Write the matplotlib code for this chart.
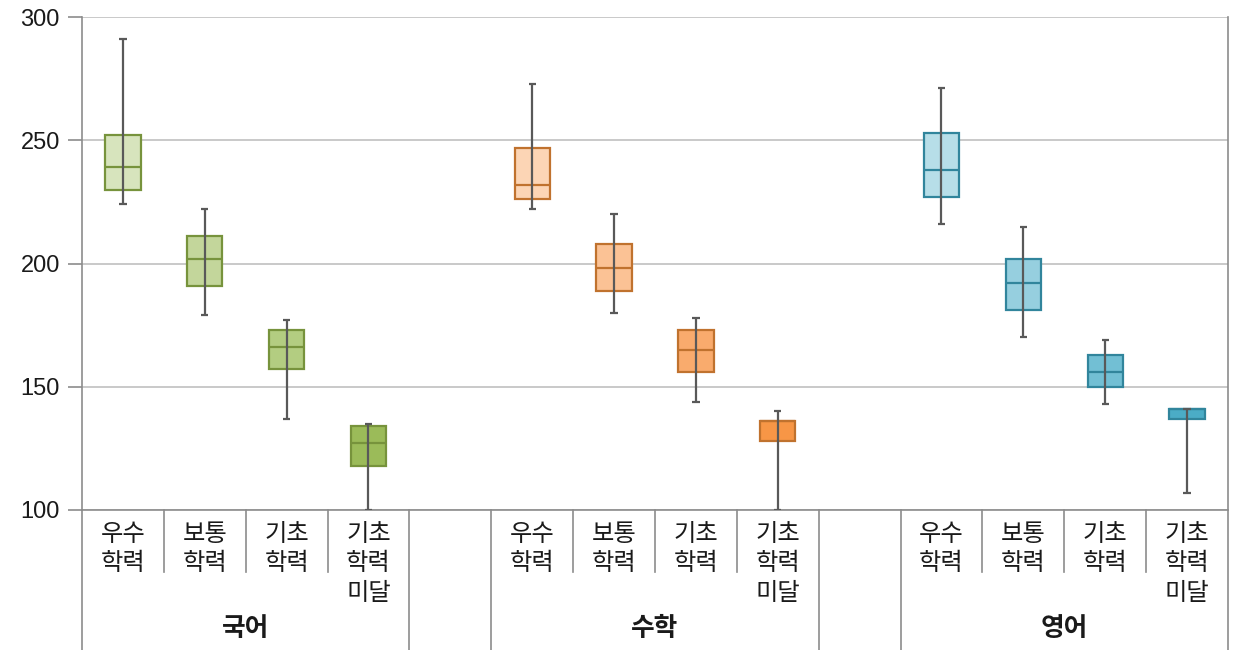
import matplotlib
matplotlib.use('Agg')
import matplotlib.pyplot as plt
import matplotlib.transforms as mtransforms

plt.rcParams['font.family'] = ['Noto Sans CJK KR', 'DejaVu Sans']

subjects = ['국어', '수학', '영어']
levels = ['우수\n학력', '보통\n학력', '기초\n학력', '기초\n학력\n미달']

# per subject: whisker top, q3, median, q1, whisker bottom (one value per level)
kor_hi = [291, 222, 177, 135]
kor_q3 = [252, 211, 173, 134]
kor_med = [239, 202, 166, 127]
kor_q1 = [230, 191, 157, 118]
kor_lo = [224, 179, 137, 100]

math_hi = [273, 220, 178, 140]
math_q3 = [247, 208, 173, 136]
math_med = [232, 198, 165, 136]
math_q1 = [226, 189, 156, 128]
math_lo = [222, 180, 144, 100]

eng_hi = [271, 215, 169, 141]
eng_q3 = [253, 202, 163, 141]
eng_med = [238, 192, 156, 141]
eng_q1 = [227, 181, 150, 137]
eng_lo = [216, 170, 143, 107]

kor_fill = ['#d7e4bd', '#c3d69b', '#b3cd81', '#9bbb59']
math_fill = ['#fcd5b5', '#fbc295', '#f9ab6d', '#f79646']
eng_fill = ['#b7dee8', '#96cfdf', '#72bfd4', '#4bacc6']
edges = ['#77933c', '#c0722e', '#31859c']

data = [
    (kor_hi, kor_q3, kor_med, kor_q1, kor_lo, kor_fill),
    (math_hi, math_q3, math_med, math_q1, math_lo, math_fill),
    (eng_hi, eng_q3, eng_med, eng_q1, eng_lo, eng_fill),
]

fig = plt.figure(figsize=(12.4, 6.5), dpi=100)
ax = fig.add_axes([82 / 1240, 1 - 510 / 650, 1146 / 1240, 493 / 650])

grid_c = '#c0c0c0'
axis_c = '#8c8c8c'
whisk_c = '#595959'
bw = 0.43
cw = 0.09

for g, (hi, q3, med, q1, lo, fills) in enumerate(data):
    for j in range(4):
        x = g * 5 + j + 0.5
        ax.bar(x, q3[j] - q1[j], bottom=q1[j], width=bw, color=fills[j],
               edgecolor=edges[g], linewidth=1.6, zorder=3)
        ax.hlines(med[j], x - bw / 2, x + bw / 2, color=edges[g], lw=1.6, zorder=4)
        ax.vlines(x, lo[j], hi[j], color=whisk_c, lw=1.6, zorder=5)
        ax.hlines([lo[j], hi[j]], x - cw / 2, x + cw / 2, color=whisk_c, lw=1.6, zorder=5)

ax.set_xlim(0, 14)
ax.set_ylim(100, 300)
ax.set_yticks([100, 150, 200, 250, 300])
ax.set_xticks([])
ax.grid(axis='y', color=grid_c, lw=1.2, zorder=0)
ax.set_axisbelow(True)
for s in ['top', 'right']:
    ax.spines[s].set_visible(False)
ax.spines['left'].set_color(axis_c)
ax.spines['bottom'].set_color(axis_c)
ax.spines['left'].set_linewidth(1.2)
ax.spines['bottom'].set_linewidth(1.2)
ax.tick_params(axis='y', length=10, width=1.2, color=axis_c, pad=6)
for t in ax.get_yticklabels():
    t.set_fontfamily('Liberation Sans')
    t.set_fontsize(17)
    t.set_color('#1a1a1a')

trans = mtransforms.blended_transform_factory(ax.transData, ax.transAxes)
long_y = -140 / 493
short_y = -62 / 493
for xs in [0, 4, 5, 9, 10, 14]:
    ax.plot([xs, xs], [1 if xs == 14 else 0, long_y], transform=trans,
            color=axis_c, lw=1.2, clip_on=False)
for xs in [1, 2, 3, 6, 7, 8, 11, 12, 13]:
    ax.plot([xs, xs], [0, short_y], transform=trans, color=axis_c, lw=1.2, clip_on=False)

for g, name in enumerate(subjects):
    for j, lab in enumerate(levels):
        x = g * 5 + j + 0.5
        ax.text(x, -11 / 493, lab, transform=trans, ha='center', va='top',
                fontsize=17.5, linespacing=1.17, color='#1a1a1a')
    ax.text(g * 5 + 2, -118 / 493, name, transform=trans, ha='center', va='center',
            fontsize=18.5, fontweight='bold', color='#1a1a1a')

fig.savefig('out.png', dpi=100)
